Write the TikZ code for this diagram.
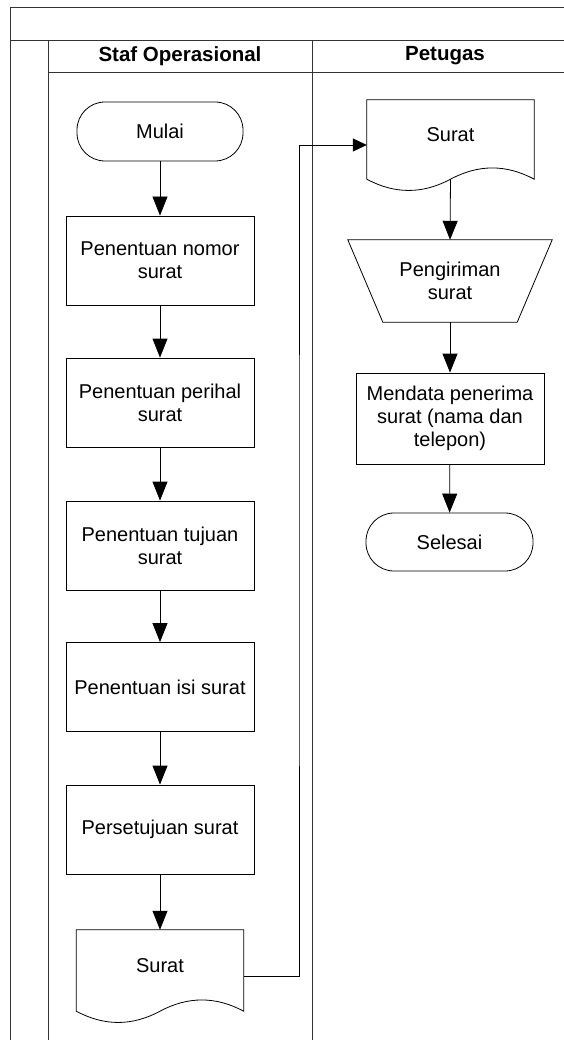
\documentclass[tikz,border=0pt]{standalone}
\usepackage{fontspec}
\setmainfont{Liberation Sans}
\usetikzlibrary{arrows.meta,calc}

% outline of a flowchart "document" symbol drawn on the bounds of a node
\newcommand\docoutline[1]{%
  \draw[shapeline] (#1.north west) -- (#1.north east)
    -- ([yshift=11pt]#1.south east)
    .. controls ([xshift=-28pt,yshift=26pt]#1.south east) and ([xshift=28pt,yshift=26pt]#1.south) .. ([yshift=11pt]#1.south)
    .. controls ([xshift=-28pt,yshift=-4pt]#1.south) and ([xshift=28pt,yshift=-4pt]#1.south west) .. ([yshift=11pt]#1.south west)
    -- cycle;}

\begin{document}
\begin{tikzpicture}[x=1pt,y=-1pt,
  font=\fontsize{20}{23}\selectfont,
  frame/.style={draw=black!80, line width=0.8pt},
  shapeline/.style={draw=black, line width=0.8pt},
  procbox/.style={shapeline, rectangle, minimum width=188pt, minimum height=89pt, align=center, inner sep=0pt},
  termbox/.style={shapeline, rectangle, rounded corners=28pt, minimum width=166pt, minimum height=59pt, inner sep=0pt},
  docbody/.style={rectangle, minimum width=167pt, inner sep=0pt, text depth=20pt},
  flow/.style={line width=0.8pt, -{Triangle[length=19pt,width=15pt]}},
  flowside/.style={line width=0.8pt, -{Triangle[length=14pt,width=13pt]}},
  lanehead/.style={font=\fontsize{20.5}{24}\selectfont\bfseries}
]
\useasboundingbox (0,0) rectangle (564,1040);

% pool and lane frame
\draw[frame] (10,1040) -- (10,7) -- (564,7);
\draw[frame] (10,40) -- (564,40);
\draw[frame] (48,1040) -- (48,40);
\draw[frame] (48,72) -- (564,72);
\draw[frame] (312,40) -- (312,1040);
\node[lanehead] (laneA) at (180,56) {Staf Operasional};
\node[lanehead] (laneB) at (445,56) {Petugas};

% Staf Operasional lane
\node[termbox] (start) at (160,131.5) {Mulai};
\node[procbox] (nomor) at (160,260.5) {Penentuan nomor\\surat};
\node[procbox] (perihal) at (160,402.5) {Penentuan perihal\\surat};
\node[procbox] (tujuan) at (160,545.5) {Penentuan tujuan\\surat};
\node[procbox] (isi) at (160,687) {Penentuan isi surat};
\node[procbox] (setuju) at (160,829.5) {Persetujuan surat};
\node[docbody, minimum height=92pt] (docA) at (160,976) {Surat};
\docoutline{docA}

% Petugas lane
\node[docbody, minimum height=90pt] (docB) at (450.5,145) {Surat};
\docoutline{docB}
\coordinate (docBwave) at ([yshift=11pt]docB.south);
\node[rectangle, minimum width=134pt, minimum height=82pt, inner sep=0pt, align=center] (kirim) at (450,281) {Pengiriman\\surat};
\draw[shapeline] ([xshift=-35pt]kirim.north west) -- ([xshift=35pt]kirim.north east)
  -- (kirim.south east) -- (kirim.south west) -- cycle;
\node[procbox, minimum height=91pt] (data) at (450,418.5) {Mendata penerima\\surat (nama dan\\telepon)};
\node[termbox, minimum width=167pt, minimum height=58pt] (end) at (449.5,542) {Selesai};

% connectors
\draw[flow] (start) -- (nomor);
\draw[flow] (nomor) -- (perihal);
\draw[flow] (perihal) -- (tujuan);
\draw[flow] (tujuan) -- (isi);
\draw[flow] (isi) -- (setuju);
\draw[flow] (setuju) -- (docA);
\coordinate (route) at (299,560);
\draw[flowside] (docA.east) -| (route) |- (docB.west);
\draw[flow] (docBwave) -- (kirim.north);
\draw[flow] (kirim) -- (data);
\draw[flow] (data) -- (end);
\end{tikzpicture}
\end{document}
